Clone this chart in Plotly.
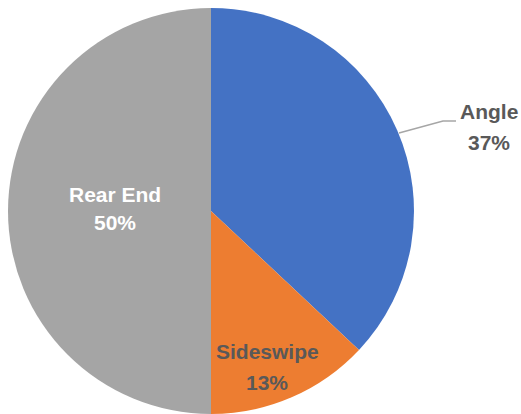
import plotly.graph_objects as go

categories = ["Angle", "Sideswipe", "Rear End"]
values = [37, 13, 50]
colors = ["#4472C4", "#ED7D31", "#A5A5A5"]

W, H = 521, 414

def px(x, y):
    return x / W, 1 - y / H

fig = go.Figure(go.Pie(
    labels=categories,
    values=values,
    sort=False,
    direction="clockwise",
    rotation=0,
    marker=dict(colors=colors, line=dict(width=0)),
    textinfo="none",
    hoverinfo="label+percent",
    domain=dict(x=[8 / W, 414 / W], y=[0, 1 - 8 / H]),
    showlegend=False,
))

FAMILY = "Liberation Sans, Arial, sans-serif"
SIZE = 21

# (x center, y of first line center, y of second line center) in pixels
label_pos = {"Angle": (489, 112, 142), "Sideswipe": (267, 351, 382), "Rear End": (115, 194, 223)}
annotations = []
for cat, val in zip(categories, values):
    x, ya, yb = label_pos[cat]
    color = "#FFFFFF" if cat == "Rear End" else "#595959"
    for txt, yy in ((cat, ya), (f"{val}%", yb)):
        xp, yp = px(x, yy)
        annotations.append(dict(
            x=xp, y=yp, xref="paper", yref="paper",
            text=f"<b>{txt}</b>",
            showarrow=False,
            font=dict(family=FAMILY, size=SIZE, color=color),
            align="center", xanchor="center", yanchor="middle",
        ))

x0, y0 = px(399, 133)
x1, y1 = px(443, 121)
x2, y2 = px(456, 121)
fig.add_shape(type="path", xref="paper", yref="paper",
              path=f"M {x0} {y0} L {x1} {y1} L {x2} {y2}",
              line=dict(color="#A6A6A6", width=1.5))

fig.update_layout(
    width=W, height=H,
    margin=dict(l=0, r=0, t=0, b=0),
    paper_bgcolor="white",
    plot_bgcolor="white",
    annotations=annotations,
)

fig.write_html("out.html")
